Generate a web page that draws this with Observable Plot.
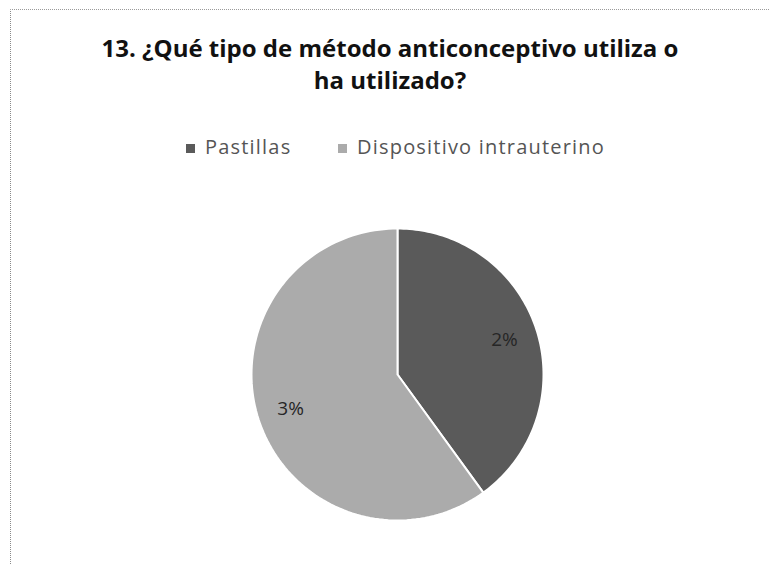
<!DOCTYPE html>
<html>
<head>
<meta charset="utf-8">
<script src="https://cdn.jsdelivr.net/npm/d3@7"></script>
<script src="https://cdn.jsdelivr.net/npm/@observablehq/plot@0.6"></script>
<style>
  html, body { margin: 0; padding: 0; background: #fff; }
  #wrap { position: relative; width: 769px; height: 565px; overflow: hidden; font-family: "Open Sans", Lato, sans-serif; }
  #frame { position: absolute; left: 10px; top: 9px; width: 800px; height: 600px; border-top: 1px dotted #9a9a9a; border-left: 1px dotted #8a8a8a; }
  #title { position: absolute; left: 0; top: 32px; width: 780px; text-align: center; font-weight: bold; font-size: 24px; line-height: 32px; color: #111; }
  .leg { position: absolute; top: 134px; font-size: 20px; letter-spacing: 1.2px; line-height: 26px; color: #555; white-space: nowrap; }
  .sw { position: absolute; width: 9px; height: 9px; top: 144px; }
  #chart { position: absolute; left: 0; top: 0; }
</style>
</head>
<body>
<div id="wrap">
  <div id="frame"></div>
  <div id="chart"></div>
  <div id="title"></div>
  <div id="legend"></div>
</div>
<script>
const titleLines = ["13. ¿Qué tipo de método anticonceptivo utiliza o", "ha utilizado?"];
const categories = ["Pastillas", "Dispositivo intrauterino"];
const values = [2, 3];
const valueLabels = ["2%", "3%"];
const colors = ["#5a5a5a", "#ababab"];

document.getElementById("title").innerHTML = titleLines.join("<br>");

// legend
const legend = document.getElementById("legend");
const legendSw = [186, 338];
const legendTx = [205, 357];
categories.forEach((c, i) => {
  const sw = document.createElement("div");
  sw.className = "sw";
  sw.style.left = legendSw[i] + "px";
  sw.style.background = colors[i];
  legend.appendChild(sw);
  const t = document.createElement("div");
  t.className = "leg";
  t.style.left = legendTx[i] + "px";
  t.textContent = c;
  legend.appendChild(t);
});

// pie geometry from data
const pie = d3.pie().sort(null).startAngle(0).endAngle(2 * Math.PI);
const arcs = pie(values);
const polys = [];
arcs.forEach((a, i) => {
  polys.push({name: categories[i], x: 0, y: 0});
  const n = 120;
  for (let k = 0; k <= n; k++) {
    const t = a.startAngle + (a.endAngle - a.startAngle) * k / n;
    polys.push({name: categories[i], x: Math.sin(t), y: Math.cos(t)});
  }
  polys.push({name: categories[i], x: 0, y: 0});
});
const labels = arcs.map((a, i) => {
  const m = (a.startAngle + a.endAngle) / 2;
  return {name: categories[i], label: valueLabels[i], x: 0.77 * Math.sin(m), y: 0.77 * Math.cos(m)};
});

const cx = 397, cy = 374, r = 146;
const chart = Plot.plot({
  width: 769,
  height: 565,
  margin: 0,
  style: {background: "transparent", overflow: "visible"},
  x: {domain: [-1, 1], range: [cx - r, cx + r], axis: null},
  y: {domain: [-1, 1], range: [cy + r, cy - r], axis: null},
  color: {domain: categories, range: colors},
  marks: [
    Plot.line(polys, {x: "x", y: "y", z: "name", fill: "name", stroke: "#ffffff", strokeWidth: 2, curve: "linear"}),
    Plot.text(labels, {x: "x", y: "y", text: "label", fill: "#262626", fontSize: 19, fontFamily: "Open Sans, sans-serif"})
  ]
});
document.getElementById("chart").appendChild(chart);
</script>
</body>
</html>
